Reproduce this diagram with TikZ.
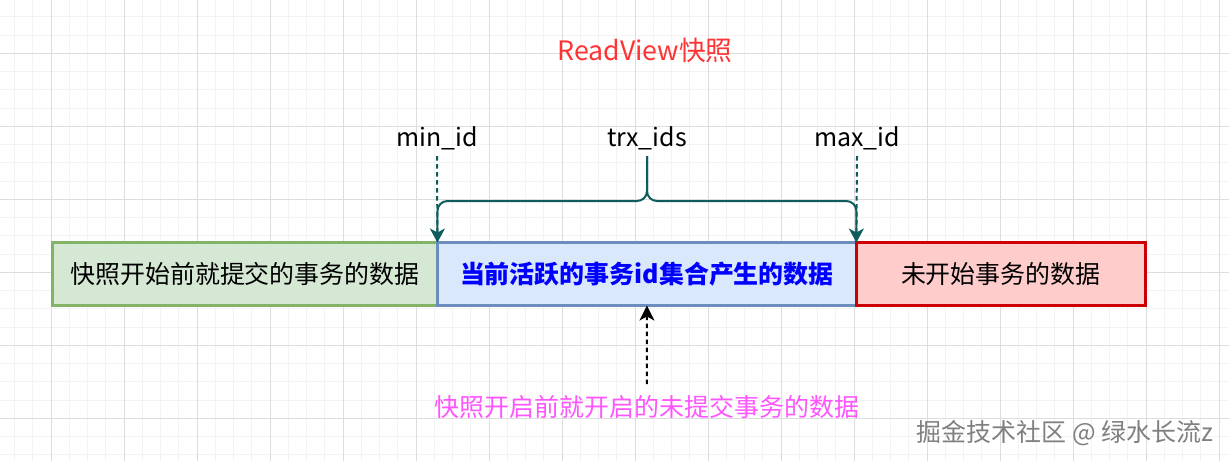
\documentclass[tikz,border=0pt]{standalone}
\usepackage{fontspec}
\setmainfont{Noto Sans CJK SC}
\usepackage{xcolor}
\usetikzlibrary{positioning,arrows.meta}

\definecolor{gridminor}{HTML}{F3F3F3}
\definecolor{gridmajor}{HTML}{DDDDDD}
\definecolor{greenfill}{HTML}{D5E8D4}
\definecolor{greenline}{HTML}{82B366}
\definecolor{bluefill}{HTML}{DAE8FC}
\definecolor{blueline}{HTML}{6C8EBF}
\definecolor{redfill}{HTML}{FFCCCC}
\definecolor{redline}{HTML}{CC0000}
\definecolor{teal}{HTML}{0E5C5C}
\definecolor{titlered}{HTML}{FF3333}
\definecolor{pinktext}{HTML}{FF55FF}

\begin{document}
\begin{tikzpicture}[
    x=0.02cm, y=-0.02cm,
    node distance=0pt,
    every node/.style={font=\fontsize{14.2}{17}\selectfont, inner sep=0pt},
    databox/.style={draw, line width=0.06cm, outer sep=0pt,
        minimum height=1.26cm, align=center},
    bracearrow/.style={draw=teal, line width=0.04cm, rounded corners=0.2cm,
        -{Stealth[length=0.28cm,width=0.3cm,inset=0.08cm]}},
    idline/.style={draw=teal, line width=0.04cm, dash pattern=on 0.09cm off 0.07cm}
]
\useasboundingbox (0,0) rectangle (1229,461);
\fill[white] (0,0) rectangle (1229,461);

% --- grade de fundo ---
\foreach \i in {0,...,66}
    \draw[gridminor, line width=0.5pt] (14.5+18.25*\i,0) -- (14.5+18.25*\i,461);
\foreach \j in {0,...,24}
    \draw[gridminor, line width=0.5pt] (0,16.8+18.25*\j) -- (1229,16.8+18.25*\j);
\foreach \i in {0,...,16}
    \draw[gridmajor, line width=0.5pt] (51+73*\i,0) -- (51+73*\i,461);
\foreach \j in {0,...,5}
    \draw[gridmajor, line width=0.5pt] (0,53.3+73*\j) -- (1229,53.3+73*\j);

% --- titulo ---
\node[text=titlered, font=\fontsize{15.2}{18}\selectfont] (title) at (645,50) {ReadView快照};

% --- as tres faixas de dados ---
\node[databox, fill=greenfill, draw=greenline, minimum width=7.7cm, anchor=west]
    (committed) at (52.5,274) {快照开始前就提交的事务的数据};
\node[databox, fill=bluefill, draw=blueline, minimum width=8.38cm,
    text=blue, font=\fontsize{14.2}{17}\selectfont\bfseries, right=of committed]
    (active) {当前活跃的事务id集合产生的数据};
\node[databox, fill=redfill, draw=redline, minimum width=5.78cm, right=of active]
    (future) {未开始事务的数据};

% --- rotulos de cima ---
\node (minid) at (437,138) {min\_id};
\node (trxids) at (647,138) {trx\_ids};
\node (maxid) at (857,138) {max\_id};
\coordinate (braceline) at (0,201);

\draw[idline] ([yshift=-0.12cm]minid.south) -- (active.north west);
\draw[idline] ([yshift=-0.12cm]maxid.south) -- (active.north east);

% chave com setas para os limites
\draw[bracearrow] ([yshift=-0.12cm]trxids.south) -- (trxids |- braceline)
    -- (active.north west |- braceline) -- (active.north west);
\draw[bracearrow] ([yshift=-0.12cm]trxids.south) -- (trxids |- braceline)
    -- (active.north east |- braceline) -- (active.north east);

% --- rotulo de baixo ---
\node[text=pinktext] (pending) at (647,407) {快照开启前就开启的未提交事务的数据};
\draw[line width=0.04cm, dash pattern=on 0.09cm off 0.07cm, shorten <=0.22cm,
    -{Stealth[length=0.3cm,width=0.3cm,inset=0.08cm]}] (pending) -- (active);

\node[text=gray] (watermark) at (1065,433) {掘金技术社区 @ 绿水长流z};

\end{tikzpicture}
\end{document}
